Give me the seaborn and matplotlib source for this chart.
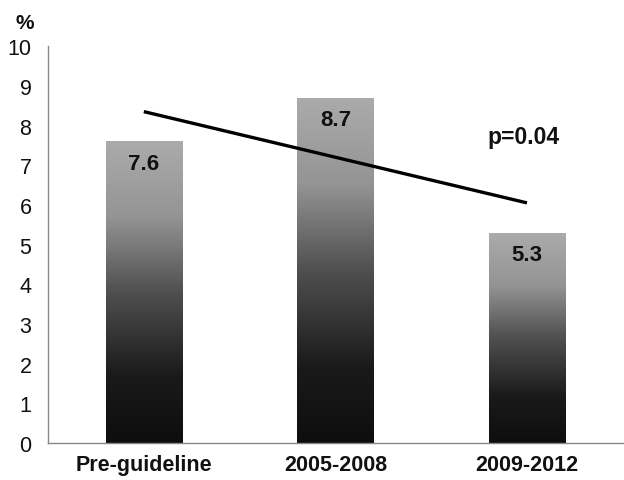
import numpy as np
import pandas as pd
import matplotlib
matplotlib.use("Agg")
import matplotlib.pyplot as plt
from matplotlib.colors import LinearSegmentedColormap
import seaborn as sns

categories = ["Pre-guideline", "2005-2008", "2009-2012"]
values = [7.6, 8.7, 5.3]
trend_x = [0, 2]
trend_y = [8.35, 6.05]
p_text = "p=0.04"

sns.set_style("white")
plt.rcParams["font.family"] = ["Liberation Sans", "DejaVu Sans"]

df = pd.DataFrame({"period": categories, "pct": values})

fig = plt.figure(figsize=(6.24, 4.81), dpi=100)
ax = fig.add_axes([0.077, 0.077, 0.921, 0.825])

sns.barplot(data=df, x="period", y="pct", color="#777777", width=0.4, ax=ax,
            saturation=1, edgecolor="none")

# vertical grey gradient in each bar (dark at the bottom)
cmap = LinearSegmentedColormap.from_list(
    "bar", [(0.0, "#0e0e0e"), (0.22, "#1a1a1a"), (0.5, "#505050"),
            (0.75, "#949494"), (1.0, "#ababab")])
grad = np.linspace(0, 1, 256).reshape(-1, 1)
for patch in ax.patches:
    x0, y0 = patch.get_x(), patch.get_y()
    w, h = patch.get_width(), patch.get_height()
    im = ax.imshow(grad, cmap=cmap, origin="lower", aspect="auto",
                   extent=[x0, x0 + w, y0, y0 + h], zorder=patch.get_zorder() + 0.1)
    im.set_clip_path(patch)
    patch.set_facecolor("none")

for i, v in enumerate(values):
    ax.text(i, v - 0.55, f"{v:.1f}", ha="center", va="center",
            fontsize=16, fontweight="bold", color="#111111", zorder=5)

ax.plot(trend_x, trend_y, color="black", lw=2.4, zorder=6, solid_capstyle="butt")
ax.text(1.98, 7.73, p_text, ha="center", va="center", fontsize=16.5,
        fontweight="bold", color="#111111")

ax.set_xlim(-0.5, 2.42)
ax.set_ylim(0, 10)
ax.set_yticks(range(0, 11))
ax.set_xlabel("")
ax.set_ylabel("")
ax.text(-0.62, 10.6, "%", ha="center", va="center", fontsize=15, fontweight="bold",
        color="#111111", clip_on=False)

ax.set_xticks([-0.5, 0.5, 1.5, 2.5], minor=True)
ax.tick_params(axis="x", which="major", length=0, pad=8, labelsize=15.5,
               labelcolor="#111111")
ax.tick_params(axis="x", which="minor", length=6, width=0.8, color="#888888",
               direction="out")
ax.tick_params(axis="y", length=5, width=0.8, color="#888888", direction="out",
               labelsize=15.5, pad=7, labelcolor="#111111")
for lbl in ax.get_xticklabels():
    lbl.set_fontweight("bold")

sns.despine(ax=ax)
for s in ["left", "bottom"]:
    ax.spines[s].set_color("#888888")
    ax.spines[s].set_linewidth(1.0)

fig.savefig("out.png", dpi=100)
